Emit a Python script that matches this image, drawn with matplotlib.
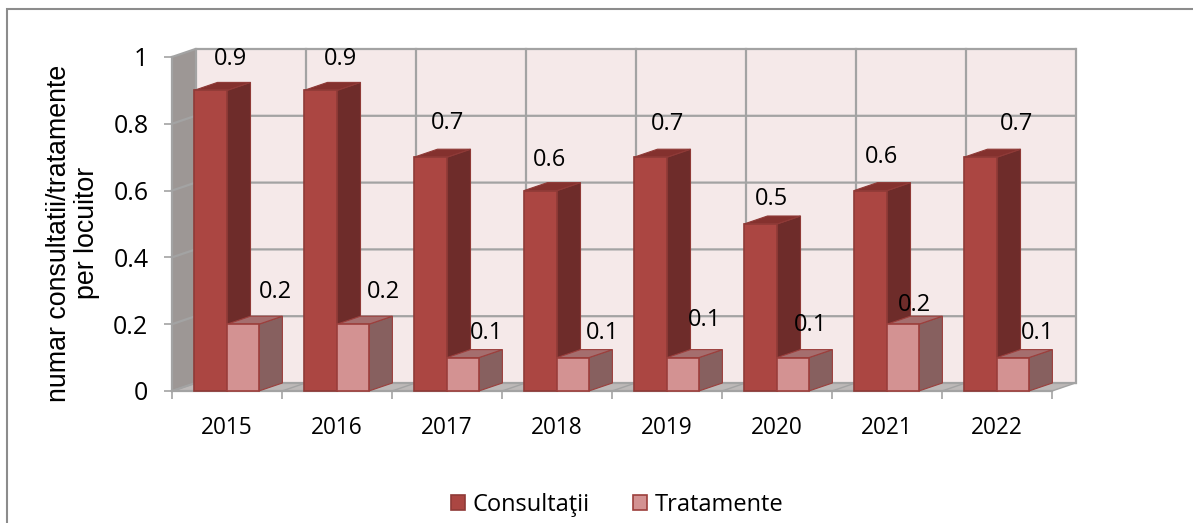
import matplotlib as mpl
mpl.use("agg")
import matplotlib.pyplot as plt
from matplotlib.patches import Patch, Polygon

years = ["2015", "2016", "2017", "2018", "2019", "2020", "2021", "2022"]
consultatii = [0.9, 0.9, 0.7, 0.6, 0.7, 0.5, 0.6, 0.7]
tratamente = [0.2, 0.2, 0.1, 0.1, 0.1, 0.1, 0.2, 0.1]
y_ticks = [0, 0.2, 0.4, 0.6, 0.8, 1]
y_tick_labels = ["0", "0.2", "0.4", "0.6", "0.8", "1"]

# label offsets from the bar's front top centre, in pixels
off_c = [(20, 31), (20, 31), (17, 34), (9, 31), (17, 33), (11, 25), (11, 34), (36, 33)]
off_t = [(32, 32), (30, 32), (24, 25), (30, 25), (22, 38), (18, 33), (11, 19), (25, 25)]

W, H = 1193, 523
px = 72 / 100
plt.rcParams["font.family"] = ["Open Sans", "DejaVu Sans"]

color_c = "#ab4642"
color_c_side = "#6e2c2a"
color_c_top = "#84312e"
color_c_edge = "#8f3a37"
color_t = "#d39292"
color_t_side = "#87605f"
color_t_top = "#a56e6e"
color_t_edge = "#9c3f3c"
color_grid = "#a3a3a3"

fig = plt.figure(figsize=(W / 100, H / 100), dpi=100)

# chart frame, only left and top edges are in the crop
fig.add_artist(plt.Line2D([7 / W, 7 / W, 1], [0, 1 - 9 / H, 1 - 9 / H],
                          color="#8c8c8c", lw=1.5, solid_joinstyle="miter"))

# axes sit on the front plane of the 3d box
ax = fig.add_axes([172 / W, 1 - 391 / H, 880 / W, 334 / H])
ax.set_xlim(0, 8)
ax.set_ylim(0, 1)
for s in ax.spines.values():
    s.set_visible(False)
ax.patch.set_visible(False)

dx = 23.5 / 110
dy = 8 / 334


def poly(pts, fc, ec="none", lw=0, z=1):
    ax.add_patch(Polygon(pts, closed=True, fc=fc, ec=ec, lw=lw, zorder=z, clip_on=False,
                         joinstyle="miter"))


# walls
poly([(dx, dy), (8 + dx, dy), (8 + dx, 1 + dy), (dx, 1 + dy)], "#f5e9e9")
poly([(0, 0), (dx, dy), (dx, 1 + dy), (0, 1)], "#9d9795")
poly([(0, 0), (8, 0), (8 + dx, dy), (dx, dy)], "#bdb9b8")

for v in y_ticks:
    ax.plot([0, dx, 8 + dx], [v, v + dy, v + dy], color=color_grid, lw=1.6, zorder=2,
            clip_on=False, solid_joinstyle="miter")
for k in range(0, 9):
    ax.plot([k + dx, k + dx], [dy, 1 + dy], color=color_grid, lw=1.6, zorder=2, clip_on=False)
    ax.plot([k, k + dx], [0, dy], color=color_grid, lw=1.0, zorder=2, clip_on=False)
ax.plot([0, 0], [0, 1], color=color_grid, lw=1.6, zorder=2, clip_on=False)
ax.plot([0, 8], [0, 0], color=color_grid, lw=1.6, zorder=2, clip_on=False)


def bar3d(x0, x1, v, front, side, top, edge, z):
    poly([(x1, 0), (x1 + dx, dy), (x1 + dx, v + dy), (x1, v)], side, edge, 0.8, z)
    poly([(x0, v), (x1, v), (x1 + dx, v + dy), (x0 + dx, v + dy)], top, edge, 0.8, z)
    poly([(x0, 0), (x1, 0), (x1, v), (x0, v)], front, edge, 1.2, z + 0.1)


for i, year in enumerate(years):
    bar3d(i + 0.2, i + 0.5, consultatii[i], color_c, color_c_side, color_c_top, color_c_edge, 3 + i)
    bar3d(i + 0.5, i + 0.79, tratamente[i], color_t, color_t_side, color_t_top, color_t_edge, 3.5 + i)
    ax.annotate(str(consultatii[i]), (i + 0.35, consultatii[i]), xytext=(off_c[i][0] * px, off_c[i][1] * px),
                textcoords="offset points", ha="center", va="center", fontsize=17, zorder=30,
                annotation_clip=False)
    ax.annotate(str(tratamente[i]), (i + 0.645, tratamente[i]), xytext=(off_t[i][0] * px, off_t[i][1] * px),
                textcoords="offset points", ha="center", va="center", fontsize=17, zorder=30,
                annotation_clip=False)

ax.set_xticks(range(0, 9))
ax.set_xticklabels([])
ax.set_xticks([k + 0.5 for k in range(8)], labels=years, minor=True)
ax.tick_params(axis="x", which="major", length=6, width=1.2, color=color_grid)
ax.tick_params(axis="x", which="minor", length=0, pad=18, labelsize=16.3)
ax.set_yticks(y_ticks, labels=y_tick_labels)
ax.tick_params(axis="y", length=6, width=1.2, color=color_grid, pad=11, labelsize=18)

fig.text(73 / W, 1 - 233 / H, "numar consultatii/tratamente\nper locuitor", rotation=90, ha="center",
         va="center", family="Liberation Sans", fontsize=19.3, linespacing=1.05)

fig.legend(handles=[Patch(fc=color_c, ec=color_c_edge, lw=1.2, label="Consultaţii"),
                    Patch(fc=color_t, ec=color_t_edge, lw=1.2, label="Tratamente")],
           loc="center", bbox_to_anchor=(617 / W, 1 - 505 / H), ncol=2, frameon=False, fontsize=17,
           handlelength=0.6, handleheight=0.6, handletextpad=0.3, columnspacing=1.85,
           borderpad=0, borderaxespad=0)

fig.savefig("out.png", dpi=100)
